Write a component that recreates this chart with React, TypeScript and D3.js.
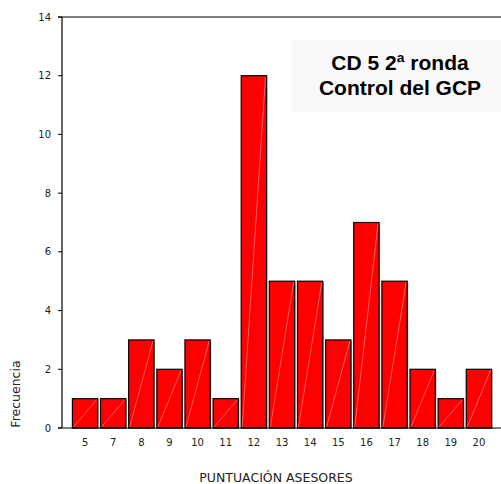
import * as React from "react"
import * as d3 from "d3"

const categories = ["5", "7", "8", "9", "10", "11", "12", "13", "14", "15", "16", "17", "18", "19", "20"]
const frequencies = [1, 1, 3, 2, 3, 1, 12, 5, 5, 3, 7, 5, 2, 1, 2]
const yTicks = [0, 2, 4, 6, 8, 10, 12, 14]
const titleLines = ["CD 5 2ª ronda", "Control del GCP"]

const width = 501
const height = 484
const axisFont = "'DejaVu Sans', Verdana, sans-serif"

export default function App() {
    const x = d3.scaleBand().domain(categories).range([71, 493]).paddingInner(0.1).paddingOuter(0.05)
    const y = d3.scaleLinear().domain([0, 14]).range([428, 17])

    return (
        <svg width={width} height={height} style={{ position: "absolute", left: 0, top: 0 }}>
            <rect width={width} height={height} fill="#fff" />
            {/* title box */}
            <rect x={292} y={40} width={209} height={72} fill="#f9f9f9" />
            {titleLines.map((t, i) => (
                <text key={t} x={400} y={70 + i * 25} textAnchor="middle" fontFamily="Arial, 'Liberation Sans', sans-serif"
                    fontWeight="bold" fontSize={21} fill="#000">{t}</text>
            ))}
            {/* bars */}
            {categories.map((c, i) => {
                const x0 = x(c)!
                const w = x.bandwidth()
                const yTop = y(frequencies[i])
                return (
                    <g key={c}>
                        <rect x={x0 + 1} y={yTop + 1} width={w} height={y(0) - yTop} fill="#aaa" />
                        <rect x={x0} y={yTop} width={w} height={y(0) - yTop} fill="#ff0000" stroke="#000" strokeWidth={1.2} />
                        <line x1={x0 + 1} y1={y(0) - 1} x2={x0 + w - 1} y2={yTop + 1} stroke="#ff9a9a" strokeWidth={0.6} />
                        <text x={x0 + w / 2} y={446} textAnchor="middle" fontFamily={axisFont} fontSize={10} fill="#222">{c}</text>
                    </g>
                )
            })}
            {/* axes */}
            <line x1={62} y1={17} x2={62} y2={428} stroke="#000" strokeWidth={1.2} />
            <line x1={58} y1={428} x2={501} y2={428} stroke="#000" strokeWidth={1.2} />
            <line x1={58} y1={17} x2={501} y2={17} stroke="#000" strokeWidth={1.2} />
            {yTicks.map(t => (
                <g key={t}>
                    <line x1={58} x2={62} y1={y(t)} y2={y(t)} stroke="#000" strokeWidth={1} />
                    <text x={51} y={y(t) + 3.5} textAnchor="end" fontFamily={axisFont} fontSize={10} fill="#222">{t}</text>
                </g>
            ))}
            <text x={276} y={482} textAnchor="middle" fontFamily={axisFont} fontSize={12.5} fill="#222">PUNTUACIÓN ASESORES</text>
            <text transform="translate(20,394) rotate(-90)" textAnchor="middle" fontFamily={axisFont} fontSize={12.5} fill="#222">Frecuencia</text>
        </svg>
    )
}
